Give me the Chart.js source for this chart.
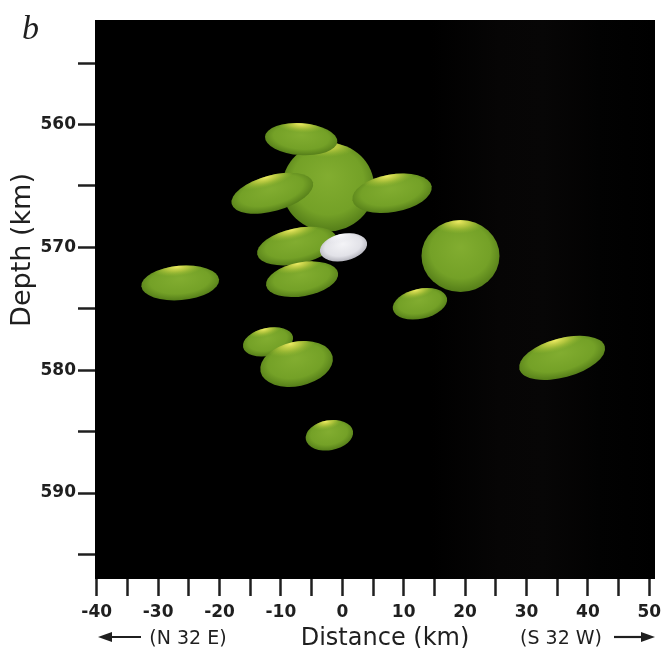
<!DOCTYPE html>
<html>
<head>
<meta charset="utf-8">
<script src="https://cdn.jsdelivr.net/npm/chart.js@4.4.1/dist/chart.umd.min.js"></script>
<style>
html,body{margin:0;padding:0;background:#ffffff;}
#wrap{width:661px;height:648px;}
</style>
</head>
<body>
<div id="wrap"><canvas id="c" width="661" height="648"></canvas></div>
<script>
// ---- data (draw order) ----
const eventDistance = [-2.3, -6.7, -11.4, 8.1, -7.4, -6.55, 0.2, -26.4, -12.1, -7.45, -2.1, 19.25, 12.65, 35.8];
const eventDepth    = [565.1, 561.2, 565.6, 565.6, 569.9, 572.6, 570.0, 572.9, 577.7, 579.5, 585.3, 570.7, 574.6, 579.0];
const eventHalfWidth  = [7.5, 5.9, 6.85, 6.55, 6.6, 5.95, 3.9, 6.35, 4.15, 6.0, 3.9, 6.35, 4.5, 7.2];   // km along distance
const eventHalfHeight = [3.6, 1.3, 1.46, 1.53, 1.45, 1.38, 1.1, 1.4, 1.14, 1.8, 1.22, 2.93, 1.22, 1.59]; // km along depth
const eventTilt = [0, 4, -15, -10, -12, -10, -12, -5, -12, -12, -10, 0, -12, -15]; // degrees
const eventKind = ['aftershock','aftershock','aftershock','aftershock','aftershock','aftershock','mainshock',
                   'aftershock','aftershock','aftershock','aftershock','aftershock','aftershock','aftershock'];

const xTickValues = [-40,-35,-30,-25,-20,-15,-10,-5,0,5,10,15,20,25,30,35,40,45,50];
const xTickLabels = ['-40','','-30','','-20','','-10','','0','','10','','20','','30','','40','','50'];
const yTickValues = [555,560,565,570,575,580,585,590,595];
const yTickLabels = ['','560','','570','','580','','590',''];

const TEXT = '#1f1f1f';

const palettes = {
  aftershock: {b0:'#82ad30', b1:'#74a127', b2:'#557e19',
               h0:'rgba(240,236,100,0.98)', h1:'rgba(214,218,74,0.6)', h2:'rgba(160,192,50,0)'},
  mainshock:  {b0:'#f4f4f7', b1:'#e2e2e8', b2:'#b4b4bd',
               h0:'rgba(255,255,255,0.95)', h1:'rgba(250,250,252,0.5)', h2:'rgba(240,240,245,0)'}
};

function drawBlob(ctx, cx, cy, a, b, rot, kind) {
  const p = palettes[kind];
  ctx.save();
  ctx.translate(cx, cy);
  ctx.rotate(rot);
  ctx.beginPath();
  ctx.ellipse(0, 0, a, b, 0, 0, Math.PI * 2);
  ctx.clip();
  // body
  ctx.save();
  ctx.scale(a, b);
  const g = ctx.createRadialGradient(0, -0.25, 0, 0, -0.1, 1.1);
  g.addColorStop(0, p.b0);
  g.addColorStop(0.7, p.b1);
  g.addColorStop(1, p.b2);
  ctx.fillStyle = g;
  ctx.fillRect(-1.2, -1.2, 2.4, 2.4);
  ctx.restore();
  // highlight
  ctx.save();
  ctx.translate(-0.05 * a, -0.95 * b);
  ctx.scale(0.7 * a, Math.min(0.55 * b, 12));
  const h = ctx.createRadialGradient(0, 0, 0, 0, 0, 1);
  h.addColorStop(0, p.h0);
  h.addColorStop(0.45, p.h1);
  h.addColorStop(1, p.h2);
  ctx.fillStyle = h;
  ctx.fillRect(-1.1, -1.1, 2.2, 2.2);
  ctx.restore();
  ctx.restore();
}

const backgroundPlugin = {
  id: 'bg',
  beforeDraw(chart) {
    const {ctx, chartArea: ca} = chart;
    ctx.save();
    ctx.fillStyle = '#ffffff';
    ctx.fillRect(0, 0, chart.width, chart.height);
    const g = ctx.createLinearGradient(ca.left, 0, ca.right, 0);
    g.addColorStop(0, '#000000');
    g.addColorStop(0.6, '#000000');
    g.addColorStop(0.72, '#060505');
    g.addColorStop(0.8, '#070606');
    g.addColorStop(0.9, '#020202');
    g.addColorStop(1, '#000000');
    ctx.fillStyle = g;
    ctx.fillRect(ca.left, ca.top, ca.right - ca.left, ca.bottom - ca.top);
    ctx.restore();
  }
};

const ellipsePlugin = {
  id: 'ellipses',
  afterDatasetsDraw(chart) {
    const {ctx, chartArea: ca, scales: {x, y}} = chart;
    const meta = chart.getDatasetMeta(0);
    ctx.save();
    ctx.beginPath();
    ctx.rect(ca.left, ca.top, ca.right - ca.left, ca.bottom - ca.top);
    ctx.clip();
    meta.data.forEach((pt, i) => {
      const cx = pt.x, cy = pt.y;
      const a = Math.abs(x.getPixelForValue(eventDistance[i] + eventHalfWidth[i]) - cx);
      const b = Math.abs(y.getPixelForValue(eventDepth[i] + eventHalfHeight[i]) - cy);
      drawBlob(ctx, cx, cy, a, b, eventTilt[i] * Math.PI / 180, eventKind[i]);
    });
    ctx.restore();
  }
};

const textPlugin = {
  id: 'texts',
  afterDraw(chart) {
    const {ctx} = chart;
    ctx.save();
    ctx.fillStyle = TEXT;
    ctx.strokeStyle = TEXT;
    // panel letter
    ctx.font = 'italic 34px "Liberation Serif"';
    ctx.textAlign = 'left';
    ctx.textBaseline = 'alphabetic';
    ctx.fillText('b', 22, 39);
    // y title
    ctx.save();
    ctx.translate(30, 250);
    ctx.rotate(-Math.PI / 2);
    ctx.font = '27px "DejaVu Sans"';
    ctx.textAlign = 'center';
    ctx.textBaseline = 'alphabetic';
    ctx.fillText('Depth (km)', 0, 0);
    ctx.restore();
    // x title and directions
    ctx.textAlign = 'center';
    ctx.textBaseline = 'alphabetic';
    ctx.font = '24px "DejaVu Sans"';
    ctx.fillText('Distance (km)', 385, 645);
    ctx.font = '19px "DejaVu Sans"';
    ctx.fillText('(N 32 E)', 188, 644);
    ctx.fillText('(S 32 W)', 561, 644);
    // arrows
    ctx.lineWidth = 2.2;
    ctx.beginPath(); ctx.moveTo(141, 637); ctx.lineTo(108, 637); ctx.stroke();
    ctx.beginPath(); ctx.moveTo(98, 637); ctx.lineTo(112, 632); ctx.lineTo(112, 642); ctx.closePath(); ctx.fill();
    ctx.beginPath(); ctx.moveTo(614, 637); ctx.lineTo(644, 637); ctx.stroke();
    ctx.beginPath(); ctx.moveTo(655, 637); ctx.lineTo(641, 632); ctx.lineTo(641, 642); ctx.closePath(); ctx.fill();
    ctx.restore();
  }
};

const tickFont = {family: '"DejaVu Sans"', weight: 'bold', size: 17};

new Chart(document.getElementById('c'), {
  type: 'scatter',
  data: {
    datasets: [{
      data: eventDistance.map((d, i) => ({x: d, y: eventDepth[i]})),
      pointRadius: 0,
      pointHoverRadius: 0
    }]
  },
  options: {
    responsive: false,
    devicePixelRatio: 1,
    animation: false,
    events: [],
    layout: {padding: {top: 20, right: 6, left: 0, bottom: 0}},
    plugins: {legend: {display: false}, tooltip: {enabled: false}},
    scales: {
      x: {
        type: 'linear',
        position: 'bottom',
        min: -40.28,
        max: 50.93,
        afterBuildTicks: (s) => { s.ticks = xTickValues.map(v => ({value: v})); },
        afterFit: (s) => { s.height = 69; s.paddingLeft = 0; s.paddingRight = 0; },
        border: {display: false},
        grid: {drawOnChartArea: false, drawTicks: true, tickLength: 17, tickColor: TEXT, tickWidth: 2.5},
        ticks: {
          autoSkip: false, maxRotation: 0, padding: 6, color: TEXT, font: tickFont,
          callback: (v) => { const k = xTickValues.indexOf(Math.round(v)); return k >= 0 ? xTickLabels[k] : ''; }
        },
        title: {display: false}
      },
      y: {
        type: 'linear',
        reverse: true,
        min: 551.5,
        max: 597.0,
        afterBuildTicks: (s) => { s.ticks = yTickValues.map(v => ({value: v})); },
        afterFit: (s) => { s.width = 95; s.paddingTop = 0; s.paddingBottom = 0; },
        border: {display: false},
        grid: {drawOnChartArea: false, drawTicks: true, tickLength: 17, tickColor: TEXT, tickWidth: 2.5},
        ticks: {
          autoSkip: false, padding: 2, color: TEXT, font: tickFont,
          callback: (v) => { const k = yTickValues.indexOf(Math.round(v)); return k >= 0 ? yTickLabels[k] : ''; }
        },
        title: {display: false}
      }
    }
  },
  plugins: [backgroundPlugin, ellipsePlugin, textPlugin]
});
</script>
</body>
</html>
